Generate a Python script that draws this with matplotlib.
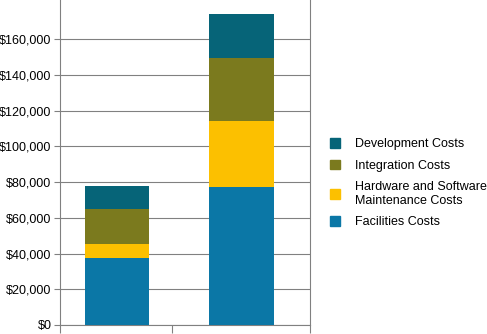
import numpy as np
import matplotlib.pyplot as plt
from matplotlib.patches import Patch
from matplotlib.ticker import FuncFormatter

plt.rcParams['font.family'] = ['Liberation Sans', 'DejaVu Sans']

# valores
grupos = [0, 1]
facilities = [37500, 77000]
hardware = [8000, 37500]
integration = [19500, 35000]
development = [13000, 24500]

nomes = ['Facilities Costs', 'Hardware and Software\nMaintenance Costs',
         'Integration Costs', 'Development Costs']
cores = ['#0b77a6', '#fcc000', '#7b7a1e', '#066478']
series = [facilities, hardware, integration, development]

fig = plt.figure(figsize=(4.87, 3.34), dpi=100)
ax = fig.add_axes([0.123, 0.027, 0.514, 0.973])

x = np.array(grupos)
base = np.zeros(len(grupos))
for vals, cor in zip(series, cores):
    ax.bar(x, vals, width=0.52, bottom=base, color=cor, zorder=3)
    base = base + np.array(vals)

ax.set_ylim(0, 182000)
ax.set_xlim(-0.458, 1.55)
ax.set_yticks(np.arange(0, 160001, 20000))
ax.yaxis.set_major_formatter(FuncFormatter(lambda v, p: '${:,.0f}'.format(v)))
ax.set_xticks([-0.458, 0.44, 1.55])
ax.set_xticklabels([])
ax.tick_params(axis='y', length=4, color='#808080', labelsize=9, pad=2)
ax.tick_params(axis='x', length=6, color='#808080')
ax.grid(axis='y', color='#808080', lw=0.8, zorder=0)
for s in ['left', 'right', 'bottom']:
    ax.spines[s].set_color('#808080')
ax.spines['top'].set_visible(False)

handles = [Patch(color=c, label=n) for c, n in zip(cores, nomes)][::-1]
fig.legend(handles=handles, loc='upper left', bbox_to_anchor=(0.665, 0.605),
           frameon=False, fontsize=9, handlelength=0.8, handleheight=0.8,
           handletextpad=1.2, labelspacing=0.75, borderpad=0)

plt.savefig('out.png', dpi=100)
